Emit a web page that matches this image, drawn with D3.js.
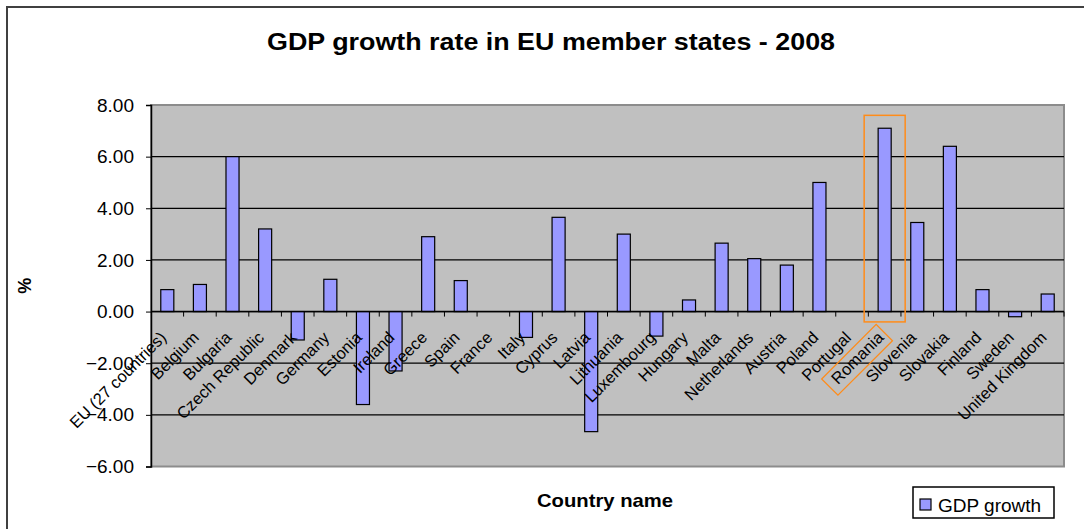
<!DOCTYPE html>
<html>
<head>
<meta charset="utf-8">
<script src="https://cdn.jsdelivr.net/npm/d3@7"></script>
<style>
  body { margin: 0; background: #fff; }
  svg { display: block; font-family: Arial, "Liberation Sans", sans-serif; }
</style>
</head>
<body>
<svg id="chart" width="1084" height="529"></svg>
<script>
// data
var countries = ["EU (27 countries)", "Belgium", "Bulgaria", "Czech Republic", "Denmark", "Germany",
  "Estonia", "Ireland", "Greece", "Spain", "France", "Italy", "Cyprus", "Latvia", "Lithuania",
  "Luxembourg", "Hungary", "Malta", "Netherlands", "Austria", "Poland", "Portugal", "Romania",
  "Slovenia", "Slovakia", "Finland", "Sweden", "United Kingdom"];
var gdpGrowth = [0.85, 1.05, 6.0, 3.2, -1.1, 1.25, -3.6, -2.3, 2.9, 1.2, 0.0, -1.0, 3.65, -4.65, 3.0,
  -0.95, 0.45, 2.65, 2.05, 1.8, 5.0, 0.0, 7.1, 3.45, 6.4, 0.85, -0.2, 0.68];
var yTicks = [-6, -4, -2, 0, 2, 4, 6, 8];
var highlighted = "Romania";

var svg = d3.select("#chart");

var plot = {left: 151, right: 1064, top: 105, bottom: 466.5};

// outer chart frame
svg.append("rect")
  .attr("x", 7).attr("y", 7)
  .attr("width", 1100).attr("height", 560)
  .attr("fill", "#fff")
  .attr("stroke", "#404040")
  .attr("stroke-width", 2);

// title (stretched a bit wider like the original)
svg.append("text")
  .attr("x", 551)
  .attr("y", 50)
  .attr("text-anchor", "middle")
  .attr("textLength", 568)
  .attr("lengthAdjust", "spacingAndGlyphs")
  .style("font-size", "23.5px")
  .style("font-weight", "bold")
  .text("GDP growth rate in EU member states - 2008");

var x = d3.scaleBand()
  .domain(countries)
  .range([plot.left, plot.right]);

var y = d3.scaleLinear()
  .domain([-6, 8])
  .range([plot.bottom, plot.top]);

var barW = x.bandwidth() / 2.5;

// plot area
svg.append("rect")
  .attr("x", plot.left).attr("y", plot.top)
  .attr("width", plot.right - plot.left)
  .attr("height", plot.bottom - plot.top)
  .attr("fill", "#c0c0c0")
  .attr("stroke", "#8c8c8c")
  .attr("stroke-width", 2);

// gridlines
svg.append("g")
  .selectAll("line")
  .data(yTicks.filter(function(d) { return d > -6 && d < 8; }))
  .enter().append("line")
  .attr("x1", plot.left).attr("x2", plot.right)
  .attr("y1", function(d) { return y(d); })
  .attr("y2", function(d) { return y(d); })
  .attr("stroke", "#000")
  .attr("stroke-width", 1.2);

// y axis
var yAxis = d3.axisLeft(y)
  .tickValues(yTicks)
  .tickSize(5)
  .tickPadding(12)
  .tickFormat(d3.format(".2f"));

var yg = svg.append("g")
  .attr("transform", "translate(" + plot.left + ",0)")
  .call(yAxis);
yg.select(".domain").attr("stroke", "#000").attr("stroke-width", 1.5);
yg.selectAll(".tick line").attr("stroke", "#000");
yg.selectAll(".tick text")
  .attr("fill", "#000")
  .style("font-size", "19px")
  .style("font-family", "Arial, 'Liberation Sans', sans-serif");

// bars
svg.append("g")
  .selectAll(".bar")
  .data(countries)
  .enter().append("rect")
  .attr("class", "bar")
  .attr("x", function(d) { return x(d) + (x.bandwidth() - barW) / 2; })
  .attr("y", function(d, i) { return y(Math.max(0, gdpGrowth[i])); })
  .attr("width", barW)
  .attr("height", function(d, i) { return Math.abs(y(gdpGrowth[i]) - y(0)); })
  .attr("fill", "#9999ff")
  .attr("stroke", "#000")
  .attr("stroke-width", 1.2);

// category axis on the zero line
var zeroY = y(0);
var xg = svg.append("g");
xg.append("line")
  .attr("x1", plot.left).attr("x2", plot.right)
  .attr("y1", zeroY).attr("y2", zeroY)
  .attr("stroke", "#000")
  .attr("stroke-width", 1.5);
xg.selectAll(".xtick")
  .data(countries.slice(1).concat(["__end"]))
  .enter().append("line")
  .attr("class", "xtick")
  .attr("x1", function(d) { return d == "__end" ? plot.right : x(d); })
  .attr("x2", function(d) { return d == "__end" ? plot.right : x(d); })
  .attr("y1", zeroY).attr("y2", zeroY + 5)
  .attr("stroke", "#000");

var labels = xg.selectAll(".xlabel")
  .data(countries)
  .enter().append("g")
  .attr("class", "xlabel")
  .attr("transform", function(d) {
    return "translate(" + (x(d) + x.bandwidth() / 2) + "," + (zeroY + 27) + ") rotate(-45)";
  });
labels.append("text")
  .attr("text-anchor", "end")
  .attr("fill", "#000")
  .style("font-size", "16.5px")
  .text(function(d) { return d; });

// orange highlight around the chosen country
var hi = countries.indexOf(highlighted);
var hx = x(highlighted) + x.bandwidth() / 2;
svg.append("rect")
  .attr("x", hx - 20.5)
  .attr("y", y(gdpGrowth[hi] + 0.5))
  .attr("width", 41)
  .attr("height", y(-0.4) - y(gdpGrowth[hi] + 0.5))
  .attr("fill", "none")
  .attr("stroke", "#ff8c1a")
  .attr("stroke-width", 1.5);

labels.filter(function(d) { return d == highlighted; })
  .each(function() {
    var g = d3.select(this);
    var w = g.select("text").node().getComputedTextLength();
    g.append("rect")
      .attr("x", -w - 7)
      .attr("y", -16)
      .attr("width", w + 11)
      .attr("height", 23)
      .attr("fill", "none")
      .attr("stroke", "#ff8c1a")
      .attr("stroke-width", 1.3);
  });

// axis titles
svg.append("text")
  .attr("transform", "translate(31," + ((plot.top + plot.bottom) / 2) + ") rotate(-90)")
  .attr("text-anchor", "middle")
  .style("font-size", "18px")
  .style("font-weight", "bold")
  .text("%");

svg.append("text")
  .attr("x", 605)
  .attr("y", 507)
  .attr("text-anchor", "middle")
  .attr("textLength", 136)
  .attr("lengthAdjust", "spacingAndGlyphs")
  .style("font-size", "18.5px")
  .style("font-weight", "bold")
  .text("Country name");

// legend
var legend = svg.append("g").attr("transform", "translate(913,487)");
legend.append("rect")
  .attr("width", 141).attr("height", 31)
  .attr("fill", "#fff")
  .attr("stroke", "#000")
  .attr("stroke-width", 1.5);
legend.append("rect")
  .attr("x", 7).attr("y", 12)
  .attr("width", 11).attr("height", 11)
  .attr("fill", "#9999ff")
  .attr("stroke", "#000")
  .attr("stroke-width", 1.2);
legend.append("text")
  .attr("x", 25).attr("y", 25)
  .style("font-size", "19px")
  .text("GDP growth");
</script>
</body>
</html>
